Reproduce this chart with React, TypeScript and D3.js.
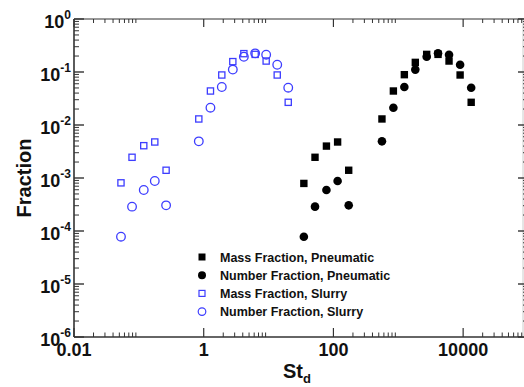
import React from "react";
import * as d3 from "d3";

// ---- data ----
const slurryX = [0.053, 0.0785, 0.119, 0.176, 0.263, 0.84, 1.27, 1.9, 2.81, 4.16, 6.21, 9.18, 13.6, 20.1];
const slurryMass = [8.1e-4, 2.46e-3, 4.07e-3, 4.78e-3, 1.4e-3, 0.013, 0.0438, 0.0878, 0.157, 0.222, 0.215, 0.161, 0.0878, 0.0268];
const slurryNumber = [7.8e-5, 2.88e-4, 5.94e-4, 8.78e-4, 3.05e-4, 4.92e-3, 0.0212, 0.0521, 0.111, 0.194, 0.225, 0.212, 0.137, 0.0506];

const pneumaticX = [35, 52, 78, 116, 172, 560, 840, 1240, 1830, 2740, 4100, 6060, 8980, 13300];
const pneumaticMass = [7.9e-4, 2.46e-3, 4.0e-3, 4.78e-3, 1.4e-3, 0.013, 0.0438, 0.089, 0.152, 0.215, 0.215, 0.161, 0.0878, 0.0268];
const pneumaticNumber = [7.8e-5, 2.88e-4, 5.94e-4, 8.78e-4, 3.05e-4, 4.92e-3, 0.0212, 0.0521, 0.111, 0.194, 0.225, 0.212, 0.137, 0.0506];

const xMajorTicks = [0.01, 1, 100, 10000];
const xTickLabels = ["0.01", "1", "100", "10000"];
const yExponents = [0, -1, -2, -3, -4, -5, -6];
const legendLabels = [
  "Mass Fraction, Pneumatic",
  "Number Fraction, Pneumatic",
  "Mass Fraction, Slurry",
  "Number Fraction, Slurry",
];

const BLUE = "#3d3dff";
const AXIS = "#333";
const FONT = "'Liberation Sans', Arial, Helvetica, sans-serif";

export default function App() {
  const W = 524;
  const H = 387;
  const x = d3.scaleLog().domain([0.01, 1e5]).range([74, 528]);
  const y = d3.scaleLog().domain([1e-6, 1]).range([337, 19]);
  const [x0, x1] = x.range();
  const [yb, yt] = y.range();

  const xMinor: number[] = [];
  xMajorTicks.concat([1e6]).forEach((m) => {
    for (let k = 2; k <= 9; k++) {
      const v = m * k;
      if (v < 1e5) xMinor.push(v);
    }
  });
  const yMinor: number[] = [];
  yExponents.forEach((e) => {
    for (let k = 2; k <= 9; k++) {
      const v = Math.pow(10, e) * k;
      if (v < 1) yMinor.push(v);
    }
  });

  const sq = 7.4;
  const r = 4.3;

  return (
    <svg
      width={W}
      height={H}
      style={{ position: "absolute", left: 0, top: 0, background: "#fff" }}
      fontFamily={FONT}
    >
      <rect x={0} y={0} width={W} height={H} fill="#fff" />
      {/* frame */}
      <line x1={x0} x2={x0} y1={yt} y2={yb} stroke={AXIS} strokeWidth={1.6} />
      <line x1={x0} x2={x1} y1={yb} y2={yb} stroke={AXIS} strokeWidth={1.6} />
      <line x1={x0} x2={x1} y1={yt} y2={yt} stroke={AXIS} strokeWidth={1.2} />
      <line x1={x1} x2={x1} y1={yt} y2={yb} stroke={AXIS} strokeWidth={1.2} />
      <line x1={523} x2={523} y1={yt} y2={yb} stroke="#ccc" strokeWidth={1} />

      {/* x ticks */}
      {xMajorTicks.map((v, i) => (
        <g key={"xm" + i}>
          <line x1={x(v)} x2={x(v)} y1={yb} y2={yb - 9} stroke={AXIS} strokeWidth={1.2} />
          <line x1={x(v)} x2={x(v)} y1={yt} y2={yt + 8} stroke={AXIS} strokeWidth={1.2} />
          <text
            x={x(v)}
            y={yb + 19}
            textAnchor="middle"
            fontSize={18}
            fontWeight="bold"
            fill="#111"
          >
            {xTickLabels[i]}
          </text>
        </g>
      ))}
      {xMinor.map((v, i) => (
        <g key={"xn" + i}>
          <line x1={x(v)} x2={x(v)} y1={yb} y2={yb - 4.5} stroke={AXIS} strokeWidth={1} />
          <line x1={x(v)} x2={x(v)} y1={yt} y2={yt + 4} stroke={AXIS} strokeWidth={1} />
        </g>
      ))}

      {/* y ticks */}
      {yExponents.map((e) => {
        const v = Math.pow(10, e);
        return (
          <g key={"ym" + e}>
            <line x1={x0} x2={x0 + 10} y1={y(v)} y2={y(v)} stroke={AXIS} strokeWidth={1.4} />
            <line x1={x1} x2={x1 - 10} y1={y(v)} y2={y(v)} stroke={AXIS} strokeWidth={1.4} />
            <text
              x={71}
              y={y(v) + 9}
              textAnchor="end"
              fontSize={18}
              fontWeight="bold"
              fill="#111"
            >
              10
              <tspan fontSize={12} dy={-9}>
                {String(e)}
              </tspan>
            </text>
          </g>
        );
      })}
      {yMinor.map((v, i) => (
        <g key={"yn" + i}>
          <line x1={x0} x2={x0 + 5} y1={y(v)} y2={y(v)} stroke={AXIS} strokeWidth={1} />
          <line x1={x1} x2={x1 - 5} y1={y(v)} y2={y(v)} stroke={AXIS} strokeWidth={1} />
        </g>
      ))}

      {/* data: pneumatic */}
      {pneumaticX.map((v, i) => (
        <rect
          key={"pm" + i}
          x={x(v) - sq / 2}
          y={y(pneumaticMass[i]) - sq / 2}
          width={sq}
          height={sq}
          fill="#000"
        />
      ))}
      {pneumaticX.map((v, i) => (
        <circle key={"pn" + i} cx={x(v)} cy={y(pneumaticNumber[i])} r={r} fill="#000" />
      ))}
      {/* data: slurry */}
      {slurryX.map((v, i) => (
        <rect
          key={"sm" + i}
          x={x(v) - sq / 2 + 0.6}
          y={y(slurryMass[i]) - sq / 2 + 0.6}
          width={sq - 1.2}
          height={sq - 1.2}
          fill="none"
          stroke={BLUE}
          strokeWidth={1.3}
        />
      ))}
      {slurryX.map((v, i) => (
        <circle
          key={"sn" + i}
          cx={x(v)}
          cy={y(slurryNumber[i])}
          r={r}
          fill="none"
          stroke={BLUE}
          strokeWidth={1.3}
        />
      ))}

      {/* legend */}
      {legendLabels.map((lab, i) => {
        const cy = 257 + i * 18.2;
        const cx = 202;
        let marker;
        if (i === 0)
          marker = <rect x={cx - 3.5} y={cy - 3.5} width={7} height={7} fill="#000" />;
        else if (i === 1) marker = <circle cx={cx} cy={cy} r={4} fill="#000" />;
        else if (i === 2)
          marker = (
            <rect x={cx - 3} y={cy - 3} width={6} height={6} fill="none" stroke={BLUE} strokeWidth={1.2} />
          );
        else marker = <circle cx={cx} cy={cy} r={3.8} fill="none" stroke={BLUE} strokeWidth={1.2} />;
        return (
          <g key={"lg" + i}>
            {marker}
            <text x={220} y={cy + 4.5} fontSize={12.5} fontWeight="bold" fill="#111">
              {lab}
            </text>
          </g>
        );
      })}

      {/* axis titles */}
      <text
        transform={`translate(31, ${(yt + yb) / 2}) rotate(-90)`}
        textAnchor="middle"
        fontSize={20}
        fontWeight="bold"
        fill="#111"
      >
        Fraction
      </text>
      <text x={297} y={378} textAnchor="middle" fontSize={20} fontWeight="bold" fill="#111">
        St
        <tspan fontSize={13} dy={5}>
          d
        </tspan>
      </text>
    </svg>
  );
}
